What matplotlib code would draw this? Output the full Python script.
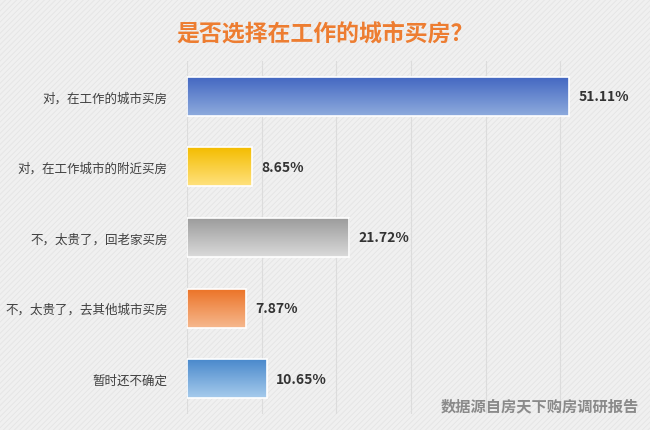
import matplotlib
matplotlib.use("Agg")
import matplotlib.pyplot as plt
import numpy as np
from matplotlib.colors import LinearSegmentedColormap
from matplotlib.patches import Rectangle

plt.rcParams['font.family'] = ['Noto Sans CJK SC', 'DejaVu Sans']
plt.rcParams['hatch.linewidth'] = 0.6

categories = ["对，在工作的城市买房", "对，在工作城市的附近买房", "不，太贵了，回老家买房",
              "不，太贵了，去其他城市买房", "暂时还不确定"]
values = [51.11, 8.65, 21.72, 7.87, 10.65]
value_labels = ["51.11%", "8.65%", "21.72%", "7.87%", "10.65%"]
# (top colour, bottom colour) for each bar gradient
bar_colors = [("#4468c2", "#8eabdd"), ("#f4bc00", "#ffe27e"), ("#9c9c9c", "#dadada"),
              ("#ec7428", "#f6b88e"), ("#4a89cc", "#a6cbec")]

fig = plt.figure(figsize=(6.5, 4.31), dpi=100)
fig.patch.set_facecolor("#f0f0f0")
fig.patches.append(Rectangle((0, 0), 1, 1, transform=fig.transFigure, facecolor="none",
                             edgecolor="#e4e4e4", hatch="//////", linewidth=0, zorder=-1))

ax = fig.add_axes([187 / 650, 16 / 431, 448 / 650, 353 / 431])
ax.set_facecolor("none")
ax.set_xlim(0, 60)
ax.set_ylim(4.5, -0.5)

for x in range(0, 60, 10):
    ax.axvline(x, color="#dcdcdc", linewidth=0.8, zorder=0)

y = np.arange(len(categories))
bars = ax.barh(y, values, height=0.55, color="none", edgecolor="white", linewidth=1.2, zorder=3)

grad = np.linspace(0, 1, 100).reshape(-1, 1)
for bar, (top, bottom) in zip(bars, bar_colors):
    cmap = LinearSegmentedColormap.from_list("g", [top, bottom])
    x0, y0, w, h = bar.get_x(), bar.get_y(), bar.get_width(), bar.get_height()
    im = ax.imshow(grad, extent=(x0, x0 + w, y0 + h, y0), aspect="auto", cmap=cmap,
                   origin="upper", zorder=2)
    im.set_clip_path(bar)

for yi, v, lab in zip(y, values, value_labels):
    ax.text(v + 1.3, yi, lab, va="center", ha="left", fontsize=10, fontweight="bold", color="#333333")

ax.set_yticks(y)
ax.set_yticklabels(categories, fontsize=9, color="#404040")
ax.tick_params(axis="y", length=0, pad=14)
ax.set_xticks([])
for s in ax.spines.values():
    s.set_visible(False)

fig.text(0.5, 0.922, "是否选择在工作的城市买房？", ha="center", va="center",
         fontsize=16.5, fontweight="bold", color="#ed7d31")
fig.text(0.983, 0.058, "数据源自房天下购房调研报告", ha="right", va="center",
         fontsize=11, fontweight="bold", color="#8a8a8a")

fig.savefig("out.png", dpi=100, facecolor=fig.get_facecolor())
